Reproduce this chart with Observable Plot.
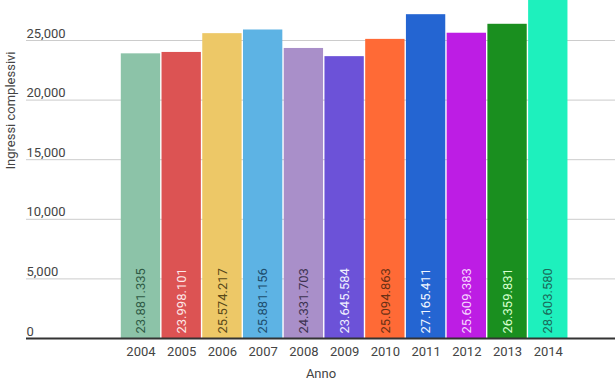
<!DOCTYPE html>
<html>
<head>
<meta charset="utf-8">
<script src="https://cdn.jsdelivr.net/npm/d3@7"></script>
<script src="https://cdn.jsdelivr.net/npm/@observablehq/plot@0.6"></script>
<style>
  html, body { margin: 0; padding: 0; background: #fff; }
  #chart svg { display: block; font-family: Roboto, "Noto Sans", sans-serif; }
</style>
</head>
<body>
<div id="chart"></div>
<script>
const years = [2004, 2005, 2006, 2007, 2008, 2009, 2010, 2011, 2012, 2013, 2014];
const values = [23881.335, 23998.101, 25574.217, 25881.156, 24331.703, 23645.584, 25094.863, 27165.411, 25609.383, 26359.831, 28603.580];
const valueLabels = ["23.881.335", "23.998.101", "25.574.217", "25.881.156", "24.331.703", "23.645.584", "25.094.863", "27.165.411", "25.609.383", "26.359.831", "28.603.580"];
const barColors = ["#8cc3a8", "#dc5353", "#edc867", "#5db3e4", "#a98fc9", "#6c52d8", "#ff6a36", "#2465d2", "#bd1de4", "#1a8f1f", "#1ef0bd"];
const labelColors = ["#2f5a45", "#fde8e8", "#5a4a1a", "#1d4e6e", "#3c3350", "#f0f0ff", "#6a3015", "#f0f6ff", "#f6d6ff", "#d8ffd0", "#1a6a5a"];
const yTicks = [0, 5000, 10000, 15000, 20000, 25000];
const yTickLabels = ["0", "5,000", "10,000", "15,000", "20,000", "25,000"];

const data = years.map((year, i) => ({
  year, value: values[i], label: valueLabels[i], color: barColors[i], textColor: labelColors[i]
}));
const ticks = yTicks.map((v, i) => ({v, label: yTickLabels[i]}));

const chart = Plot.plot({
  width: 615,
  height: 384,
  marginLeft: 26,
  marginRight: 0,
  marginTop: 0,
  marginBottom: 46,
  style: {fontFamily: "Roboto, 'Noto Sans', sans-serif", fontSize: "13px", color: "#444", background: "#fff", overflow: "hidden"},
  x: {type: "linear", domain: [2001.19, 2015.65], axis: null},
  y: {domain: [0, 25000 * 338 / 298], axis: null},
  marks: [
    Plot.ruleY(yTicks.filter(d => d > 0), {stroke: "#cccccc", strokeWidth: 1}),
    Plot.rectY(data, {
      x1: d => d.year - 0.5, x2: d => d.year + 0.5, y1: 0, y2: "value",
      fill: d => d.color, insetLeft: 0.7, insetRight: 0.7, clip: true
    }),
    Plot.ruleY([0], {stroke: "#333333", strokeWidth: 2}),
    Plot.text(ticks, {
      y: "v", text: "label", frameAnchor: "left", textAnchor: "start",
      dy: -7, fill: "#444", fontSize: 13
    }),
    Plot.text(data, {
      x: "year", y: 0, text: "label", rotate: -90, textAnchor: "start",
      dy: -5, fill: d => d.textColor, fontSize: 13
    }),
    Plot.text(years, {
      x: d => d, y: 0, text: d => String(d), dy: 13, fill: "#444", fontSize: 13
    }),
    Plot.text(["Anno"], {
      frameAnchor: "bottom", x: (2001.19 + 2015.65) / 2, dy: 39, fill: "#444", fontSize: 13
    }),
    Plot.text(["Ingressi complessivi"], {
      frameAnchor: "left", rotate: -90, dx: -16, fill: "#444", fontSize: 13
    })
  ]
});
document.getElementById("chart").appendChild(chart);
</script>
</body>
</html>
